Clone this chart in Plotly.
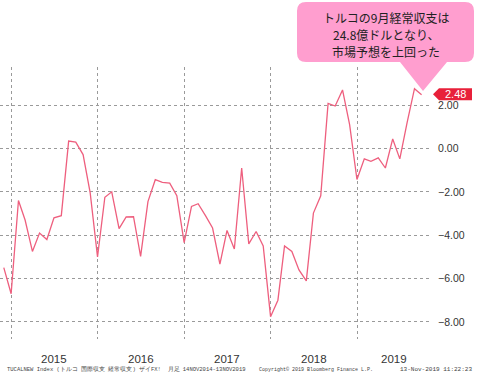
import plotly.graph_objects as go
import pandas as pd

# ---- data (monthly, Nov 2014 - Sep 2019), billions USD ----
start_month = "2014-11"
months_count = 59
values = [
    -5.5, -6.7,
    -2.4, -3.3, -4.75, -3.9, -4.2, -3.2, -3.1, 0.34, 0.29, -0.28, -2.05, -5.0,
    -2.25, -2.0, -3.7, -3.16, -3.15, -4.98, -2.45, -1.44, -1.56, -1.6, -2.18, -4.34,
    -2.67, -2.55, -3.1, -3.67, -5.34, -3.78, -4.64, -0.9, -4.4, -3.83, -4.5, -7.76,
    -7.0, -4.5, -4.75, -5.6, -6.11, -2.98, -2.18, 2.08, 1.96, 2.7, 1.1, -1.43,
    -0.48, -0.59, -0.43, -0.9, 0.44, -0.48, 1.2, 2.76, 2.48,
]
year_labels = ["2015", "2016", "2017", "2018", "2019"]
year_label_pos = ["2015-07-02", "2016-07-02", "2017-07-02", "2018-07-02", "2019-06-07"]
year_grid = ["2015-01-01", "2016-01-01", "2017-01-01", "2018-01-01", "2019-01-01"]
y_ticks = [-8, -6, -4, -2, 0, 2]
last_label = "2.48"
callout_lines = ["トルコの9月経常収支は", "24.8億ドルとなり、", "市場予想を上回った"]
footer_left = "TUCALNEW Index (トルコ 国際収支 経常収支) ザイFX!  月足 14NOV2014-13NOV2019"
footer_mid = "Copyright© 2019 Bloomberg Finance L.P."
footer_right = "13-Nov-2019 11:22:23"

dates = pd.date_range(start=start_month, periods=months_count, freq="ME")

# ---- geometry helpers (pixel -> paper) ----
W, H = 477, 375
ML, MR, MT, MB = 0, 45, 67, 36
PW, PH = W - ML - MR, H - MT - MB
def px(x):
    return (x - ML) / PW
def py(y):
    return (H - MB - y) / PH

Y_RANGE = [-8.79, 3.76]
UNIT = PH / (Y_RANGE[1] - Y_RANGE[0])

fig = go.Figure()
fig.add_trace(go.Scatter(
    x=dates, y=values, mode="lines",
    line=dict(color="#EE5F7E", width=1.3),
    hoverinfo="skip", showlegend=False,
))

shapes = []
annotations = []

# last value flag
v = values[-1]
h = 6.0 / UNIT
shapes.append(dict(
    type="path", xref="paper", yref="y", layer="above",
    path=(f"M {px(433)},{v + 0.5 / UNIT} L {px(439)},{v+h+0.5/UNIT} L {px(472)},{v+h+0.5/UNIT} "
          f"L {px(472)},{v-h+0.5/UNIT} L {px(439)},{v-h+0.5/UNIT} Z"),
    fillcolor="#E8203A", line=dict(width=0),
))
annotations.append(dict(
    x=px(455.5), y=v + 0.5 / UNIT, xref="paper", yref="y", text=last_label, showarrow=False,
    font=dict(family="Liberation Sans", size=11, color="white"),
    xanchor="center", yanchor="middle",
))

# callout bubble
x0, x1, y0, y1, r = 297, 474, 2, 62, 9
pts = [
    ("M", [(x0 + r, y0)]),
    ("L", [(x1 - r, y0)]),
    ("Q", [(x1, y0), (x1, y0 + r)]),
    ("L", [(x1, y1 - r)]),
    ("Q", [(x1, y1), (x1 - r, y1)]),
    ("L", [(447, y1)]),
    ("L", [(423, 91)]),
    ("L", [(400, y1)]),
    ("L", [(x0 + r, y1)]),
    ("Q", [(x0, y1), (x0, y1 - r)]),
    ("L", [(x0, y0 + r)]),
    ("Q", [(x0, y0), (x0 + r, y0)]),
]
path = " ".join(c + " " + " ".join(f"{px(a)},{py(b)}" for a, b in p) for c, p in pts) + " Z"
shapes.append(dict(type="path", xref="paper", yref="paper", path=path,
                   fillcolor="#FF9ECF", line=dict(width=0), layer="above"))
for line_text, yy in zip(callout_lines, [17, 34, 52]):
    annotations.append(dict(
        x=px(385.5), y=py(yy), xref="paper", yref="paper", text=line_text,
        showarrow=False, xanchor="center", yanchor="middle",
        font=dict(family="Noto Sans CJK JP", size=12, color="#222222"),
    ))

# year labels
for lab, pos in zip(year_labels, year_label_pos):
    annotations.append(dict(
        x=pos, y=py(359), xref="x", yref="paper", text=lab, showarrow=False,
        xanchor="center", yanchor="middle",
        font=dict(family="Liberation Sans", size=11.5, color="#333333"),
    ))

# footer
annotations.append(dict(x=px(5), y=py(369), xref="paper", yref="paper", text=footer_left,
                        showarrow=False, xanchor="left", yanchor="middle",
                        font=dict(family="Liberation Mono", size=5.5, color="#444444")))
annotations.append(dict(x=px(316), y=py(369), xref="paper", yref="paper", text=footer_mid,
                        showarrow=False, xanchor="center", yanchor="middle",
                        font=dict(family="Liberation Mono", size=5, color="#444444")))
annotations.append(dict(x=px(474), y=py(369), xref="paper", yref="paper", text=footer_right,
                        showarrow=False, xanchor="right", yanchor="middle",
                        font=dict(family="Liberation Mono", size=6, color="#444444")))

fig.update_layout(
    width=W, height=H,
    margin=dict(l=ML, r=MR, t=MT, b=MB),
    paper_bgcolor="white", plot_bgcolor="white",
    shapes=shapes, annotations=annotations,
    xaxis=dict(
        type="date", range=["2014-11-14", "2019-11-13"],
        tickvals=year_grid, showticklabels=False, ticks="",
        showgrid=True, gridcolor="#9A9A9A", griddash="dot", gridwidth=1,
        zeroline=False, showline=False,
    ),
    yaxis=dict(
        side="right", range=Y_RANGE, tickvals=y_ticks, tickformat=".2f",
        showgrid=True, gridcolor="#9A9A9A", griddash="dot", gridwidth=1,
        zeroline=False, showline=False, ticks="outside", ticklen=3, tickcolor="rgba(0,0,0,0)",
        tickfont=dict(family="Liberation Sans", size=10.5, color="#333333"),
    ),
)

fig.write_html(
    "out.html",
    config={"displayModeBar": False, "staticPlot": True},
    post_script="document.body.style.margin='0';document.body.style.overflow='hidden';",
)
